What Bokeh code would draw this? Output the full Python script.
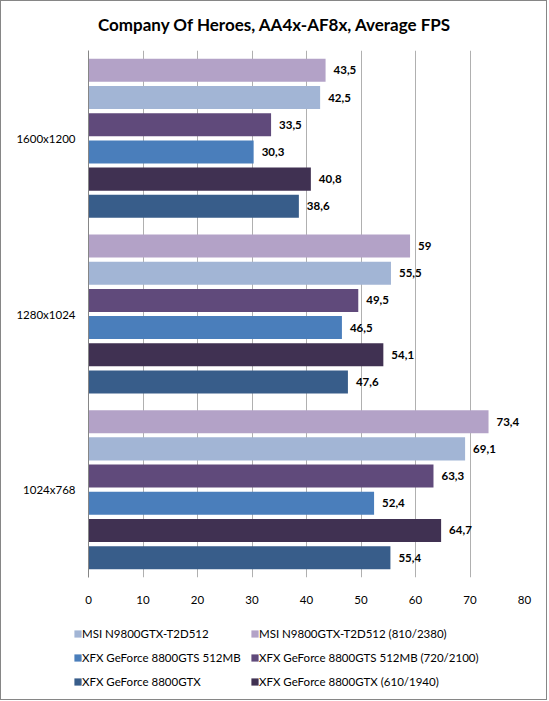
from bokeh.plotting import figure
from bokeh.models import (Legend, LegendItem, FixedTicker, ColumnDataSource, Range1d, Label)
from bokeh.layouts import column
from bokeh.core.properties import value
from bokeh.embed import file_html
from bokeh.resources import INLINE

# ---- data ----
title_text = "Company Of Heroes, AA4x-AF8x, Average FPS"
resolutions = ["1600x1200", "1280x1024", "1024x768"]  # top to bottom
series_names = [
    "MSI N9800GTX-T2D512 (810/2380)",
    "MSI N9800GTX-T2D512",
    "XFX GeForce 8800GTS 512MB (720/2100)",
    "XFX GeForce 8800GTS 512MB",
    "XFX GeForce 8800GTX (610/1940)",
    "XFX GeForce 8800GTX",
]
msi_oc = [43.5, 59.0, 73.4]
msi = [42.5, 55.5, 69.1]
gts_oc = [33.5, 49.5, 63.3]
gts = [30.3, 46.5, 52.4]
gtx_oc = [40.8, 54.1, 64.7]
gtx = [38.6, 47.6, 55.4]
series_values = [msi_oc, msi, gts_oc, gts, gtx_oc, gtx]
colors = ["#B3A2C7", "#A2B5D5", "#604A7B", "#4A7EBB", "#403152", "#385D8A"]
x_ticks = [0, 10, 20, 30, 40, 50, 60, 70, 80]

FONT = "Lato"
W = 545
H_TITLE = 49
H_MAIN = 561
H_LEG = 88


def strip(height, xr, yr):
    f = figure(width=W, height=height, output_backend="svg", toolbar_location=None,
               x_range=Range1d(*xr), y_range=Range1d(*yr), title=None,
               min_border_left=0, min_border_right=0, min_border_top=0,
               min_border_bottom=0)
    f.frame_align = False
    f.axis.visible = False
    f.grid.visible = False
    f.outline_line_color = None
    f.background_fill_color = "white"
    f.border_fill_color = "white"
    return f


# ---- title strip ----
tf = strip(H_TITLE, (0, W), (0, H_TITLE))
tf.add_layout(Label(x=W / 2 + 1, y=H_TITLE - 22.5, text=title_text,
                    text_font=FONT, text_font_size="17px", text_font_style="bold",
                    text_color="black", text_align="center", text_baseline="middle"))

# ---- main chart ----
p = figure(width=W, height=H_MAIN, output_backend="svg", toolbar_location=None,
           x_range=Range1d(0, 80), y_range=Range1d(0, 3), title=None,
           min_border_left=87, min_border_right=22, min_border_top=0,
           min_border_bottom=H_MAIN - 527)
p.frame_align = False
p.outline_line_color = None
p.background_fill_color = "white"
p.border_fill_color = "white"

n_series = len(series_values)
slot = 0.1548   # vertical pitch of bars inside one resolution group
bar_h = 0.131

for i, (name, vals, col) in enumerate(zip(series_names, series_values, colors)):
    ys = [(len(resolutions) - 1 - r) + 0.5 + (n_series / 2 - 0.5 - i) * slot
          for r in range(len(resolutions))]
    labels = [("%g" % v).replace(".", ",") for v in vals]
    src = ColumnDataSource(dict(y=ys, right=vals, lab=labels))
    p.hbar(y="y", right="right", left=0, height=bar_h, source=src,
           fill_color=col, line_color=None)
    p.text(x="right", y="y", text="lab", source=src, x_offset=8,
           text_font=value(FONT), text_font_size="11.5px", text_font_style="bold",
           text_baseline="middle", text_align="left", text_color="black")

p.xaxis.ticker = FixedTicker(ticks=x_ticks)
p.xaxis.axis_line_color = None
p.xaxis.major_tick_line_color = None
p.xaxis.minor_tick_line_color = None
p.xaxis.major_label_standoff = 12
p.xaxis.major_label_text_font = FONT
p.xaxis.major_label_text_font_size = "11.5px"
p.xaxis.major_label_text_color = "black"

centers = [2.5, 1.5, 0.5]
p.yaxis.ticker = FixedTicker(ticks=centers)
p.yaxis.major_label_overrides = {c: lab for c, lab in zip(centers, resolutions)}
p.yaxis.axis_line_color = "#868686"
p.yaxis.major_tick_line_color = None
p.yaxis.minor_tick_line_color = None
p.yaxis.major_tick_out = 0
p.yaxis.major_tick_in = 0
p.yaxis.major_label_standoff = 13
p.yaxis.major_label_text_font = FONT
p.yaxis.major_label_text_font_size = "11.5px"
p.yaxis.major_label_text_color = "black"

p.xgrid.grid_line_color = "#B0B0B0"
p.xgrid.ticker = FixedTicker(ticks=x_ticks[1:])
p.ygrid.grid_line_color = None

# ---- legend strip ----
lf = strip(H_LEG, (0, 1), (0, 1))
leg_r = {}
for name, col in zip(series_names, colors):
    # renderer used only for its legend swatch; its single box lies outside the view
    leg_r[name] = lf.hbar(y=[-10], right=[-4], left=-5, height=0.1,
                          fill_color=col, line_color=None)

col1 = [series_names[k] for k in (1, 3, 5)]
col2 = [series_names[k] for k in (0, 2, 4)]
for names, xoff in ((col1, 72), (col2, 249)):
    leg = Legend(items=[LegendItem(label=n, renderers=[leg_r[n]]) for n in names],
                 location=(xoff, 9.5), orientation="vertical",
                 glyph_width=9, glyph_height=9, label_height=17,
                 label_standoff=0, spacing=7, padding=0, margin=0,
                 border_line_color=None, background_fill_alpha=0,
                 label_text_font=FONT, label_text_font_size="11.5px",
                 label_text_color="black")
    lf.add_layout(leg, "center")

layout = column(tf, p, lf, spacing=0, styles={"border": "1px solid #868686"})

open("out.html", "w").write(file_html(layout, INLINE))
